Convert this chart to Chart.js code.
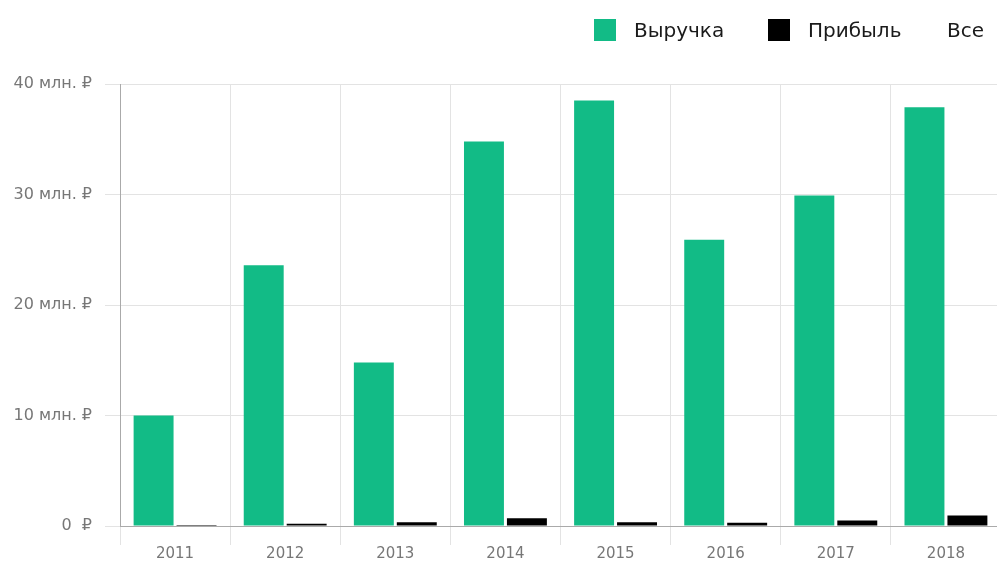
<!DOCTYPE html>
<html><head><meta charset="utf-8">
<script src="https://cdn.jsdelivr.net/npm/chart.js@4/dist/chart.umd.min.js"></script>
<style>
html,body{margin:0;padding:0;overflow:hidden;background:#fff;}
#wrap{position:relative;width:1001px;height:561px;}
.lg{position:absolute;font-family:"DejaVu Sans",Arial,sans-serif;font-size:20px;color:#1a1a1a;line-height:22px;top:19px;}
.box{position:absolute;width:22px;height:22px;top:19px;}
</style></head>
<body>
<div id="wrap">
<canvas id="c" width="1001" height="561"></canvas>
<div class="box" style="left:594px;background:#12bb86"></div>
<div class="lg" style="left:634px">Выручка</div>
<div class="box" style="left:768px;background:#000"></div>
<div class="lg" style="left:808px">Прибыль</div>
<div class="lg" style="left:947px">Все</div>
</div>
<script>
const categories = ['2011','2012','2013','2014','2015','2016','2017','2018'];
const revenue = [10.0, 23.6, 14.8, 34.8, 38.5, 25.9, 29.9, 37.9];
const profit = [0.08, 0.2, 0.33, 0.7, 0.33, 0.3, 0.5, 0.95];
const yTicks = [0, 10, 20, 30, 40];

new Chart(document.getElementById('c'), {
  type: 'bar',
  data: {
    labels: categories,
    datasets: [
      {label:'Выручка', data: revenue, backgroundColor:'#12bb86', borderWidth:0},
      {label:'Прибыль', data: profit, backgroundColor:'#000000', borderWidth:0, minBarLength:1}
    ]
  },
  options: {
    responsive:false, animation:false,
    layout:{padding:{top:84,left:0,right:0,bottom:0}},
    plugins:{legend:{display:false}, tooltip:{enabled:false}},
    datasets:{bar:{categoryPercentage:0.78, barPercentage:0.93}},
    scales:{
      x:{
        grid:{color:'#e3e3e3', tickLength:19, offset:true},
        border:{color:'#aaaaaa'},
        ticks:{color:'#777', font:{family:'"DejaVu Sans", Arial, sans-serif', size:15}, padding:0},
        afterFit(s){ s.height = 35; }
      },
      y:{
        min:0, max:40,
        afterBuildTicks(s){ s.ticks = yTicks.map(v=>({value:v})); },
        grid:{color:'#e3e3e3', tickLength:15},
        border:{color:'#aaaaaa'},
        ticks:{color:'#777', font:{family:'"DejaVu Sans", Arial, sans-serif', size:16}, padding:13,
          callback:(v)=> v===0 ? '0  ₽' : v+' млн. ₽'},
        afterFit(s){ s.width = 120; }
      }
    }
  }
});
</script>
</body></html>
